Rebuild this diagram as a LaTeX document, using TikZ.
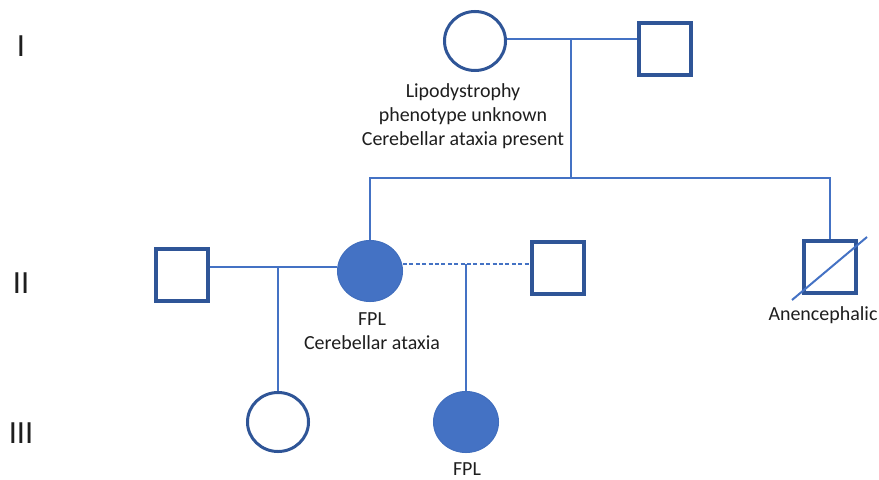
\documentclass[tikz,border=0pt]{standalone}
\usepackage{fontspec}
\setmainfont{Carlito}
\usepackage{tikz}
\usetikzlibrary{shapes.geometric}
\usepackage{xcolor}
\definecolor{pedline}{HTML}{4472C4}
\definecolor{pededge}{HTML}{2F5597}
\definecolor{pedtext}{HTML}{1E1E1E}

\begin{document}
\begin{tikzpicture}[x=0.025cm,y=-0.025cm,
	male/.style={draw=pededge,line width=0.1cm,minimum size=1.3cm,inner sep=0pt},
	female/.style={ellipse,draw=pededge,line width=0.075cm,minimum width=1.525cm,minimum height=1.475cm,inner sep=0pt},
	affected/.style={fill=pedline,draw=pedline!85!pededge,line width=0.025cm,minimum width=1.625cm,minimum height=1.525cm},
	rel/.style={draw=pedline,line width=0.04cm},
	lbl/.style={font=\fontsize{14.2}{17}\selectfont,text=pedtext,align=center,inner sep=0pt},
	gen/.style={font=\fontsize{23}{28}\selectfont,text=pedtext,inner sep=0pt}]
		
		\useasboundingbox (0,0) rectangle (879,479);
		
		%----------------------------------------
		% Generation labels
		%----------------------------------------
		\node[gen] (gI) at (21,46) {I};
		\node[gen] (gII) at (21,283) {II};
		\node[gen] (gIII) at (21,433) {III};
		
		%----------------------------------------
		% Generation I
		%----------------------------------------
		\node[female] (mI) at (475,41) {};
		\node[male] (fI) at (665,49) {};
		
		\coordinate (cI) at (571,39);
		\coordinate (sI) at (571,178);
		
		\draw[rel] (mI.east |- cI) -- (fI.west |- cI);
		\draw[rel] (cI) -- (sI);
		
		\node[lbl] (tI) at (463,116) {Lipodystrophy\\phenotype unknown\\Cerebellar ataxia present};
		
		%----------------------------------------
		% Generation II
		%----------------------------------------
		\node[male] (hIIa) at (182,275) {};
		\node[female,affected] (pII) at (370,271) {};
		\node[male] (hIIb) at (558,268) {};
		\node[male] (bII) at (830,267) {};
		
		% sibship line
		\draw[rel] (pII.north) |- (sI);
		\draw[rel] (bII.north) |- (sI);
		
		% anencephalic (deceased)
		\draw[rel,line width=0.05cm] ([shift={(-38,33)}]bII.center) -- ([shift={(37,-30)}]bII.center);
		
		% partners
		\coordinate (cIIa) at (278,267);
		\coordinate (cIIb) at (466,264);
		
		\draw[rel] (hIIa.east |- cIIa) -- (pII.west |- cIIa);
		\draw[rel,dash pattern=on 0.1cm off 0.06cm] (pII.east |- cIIb) -- (hIIb.west |- cIIb);
		
		\node[lbl] (tII) at (372,331) {FPL\\Cerebellar ataxia};
		\node[lbl] (tB) at (823,315) {Anencephalic};
		
		%----------------------------------------
		% Generation III
		%----------------------------------------
		\node[female] (dIIIa) at (278,422) {};
		\node[female,affected] (dIIIb) at (466,422) {};
		
		\draw[rel] (cIIa) -- (dIIIa.north);
		\draw[rel] (cIIb) -- (dIIIb.north);
		
		\node[lbl] (tIII) at (467,469) {FPL};
		
	\end{tikzpicture}
\end{document}
